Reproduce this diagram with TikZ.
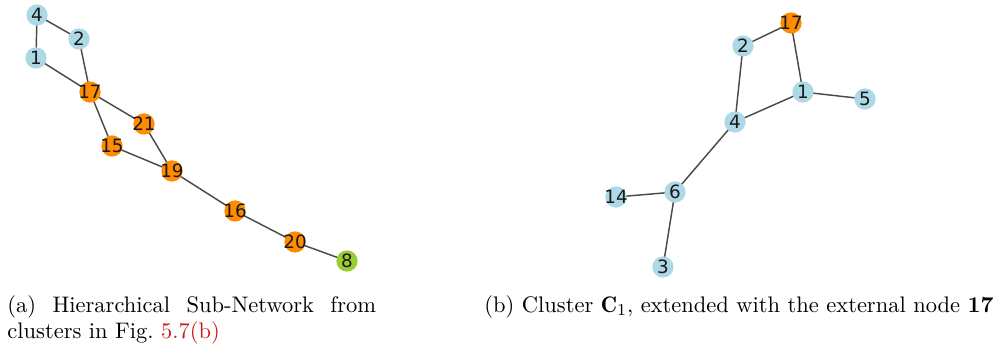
\documentclass[tikz,border=0pt]{standalone}
\usepackage{amsmath,amssymb}
\usepackage{fontspec}
\usepackage{xcolor}
\usetikzlibrary{positioning,backgrounds}
\newfontfamily\nxfont{DejaVu Sans}
\definecolor{nxblue}{HTML}{ADD8E6}
\definecolor{nxorange}{HTML}{FF8C00}
\definecolor{nxgreen}{HTML}{9ACD32}
\definecolor{nxedge}{HTML}{4A4A4A}
\definecolor{linkred}{rgb}{0.8,0.1,0.1}

\begin{document}
\begin{tikzpicture}[x=0.48pt, y=-0.48pt,
  vtx/.style={circle, inner sep=0pt, minimum size=10.2pt,
              label={[inner sep=0pt, font=\nxfont\fontsize{8.8}{9}\selectfont,
                      text=black!90]center:#1}},
  cblue/.style={vtx=#1, fill=nxblue},
  corange/.style={vtx=#1, fill=nxorange},
  cgreen/.style={vtx=#1, fill=nxgreen},
  link/.style={draw=nxedge, line width=0.7pt},
  caption/.style={inner sep=0pt, font=\fontsize{10.8}{12.4}\selectfont}]

\useasboundingbox (0,0) rectangle (1005,345);

% (a) hierarchical sub-network
\foreach \n/\x/\y in {4/37/15, 2/79/39, 1/36/58}
  \node[cblue=\n] (a\n) at (\x,\y) {};
\foreach \n/\x/\y in {17/90/92, 21/144/124, 15/112/146, 19/172/171,
                      16/235/211, 20/295/242}
  \node[corange=\n] (a\n) at (\x,\y) {};
\node[cgreen=8] (a8) at (347,261) {};

\begin{scope}[on background layer]
  \foreach \u/\v in {4/2, 4/1, 1/17, 2/17, 17/21, 17/15, 21/19, 15/19,
                     19/16, 16/20, 20/8}
    \draw[link] (a\u.center) -- (a\v.center);
\end{scope}

% (b) cluster C1 with node 17
\node[corange=17] (b17) at (791,23) {};
\foreach \n/\x/\y in {2/743/46, 1/803/92, 5/865/99, 4/735/122,
                      6/675/192, 14/616/197, 3/663/267}
  \node[cblue=\n] (b\n) at (\x,\y) {};

\begin{scope}[on background layer]
  \foreach \u/\v in {17/2, 17/1, 2/4, 1/4, 1/5, 4/6, 6/14, 6/3}
    \draw[link] (b\u.center) -- (b\v.center);
\end{scope}

% captions
\node[caption, anchor=north west, text width=177pt, align=justify,
      execute at begin node={\hyphenpenalty=10000}] (capa) at (7,295.5)
  {(a) Hierarchical Sub-Network from clusters in Fig.~\textcolor{linkred}{5.7(b)}};
\node[caption, anchor=base west] (capb) at (484,312)
  {(b) Cluster $\mathbf{C}_1$, extended with the external node \textbf{17}};

\end{tikzpicture}
\end{document}
